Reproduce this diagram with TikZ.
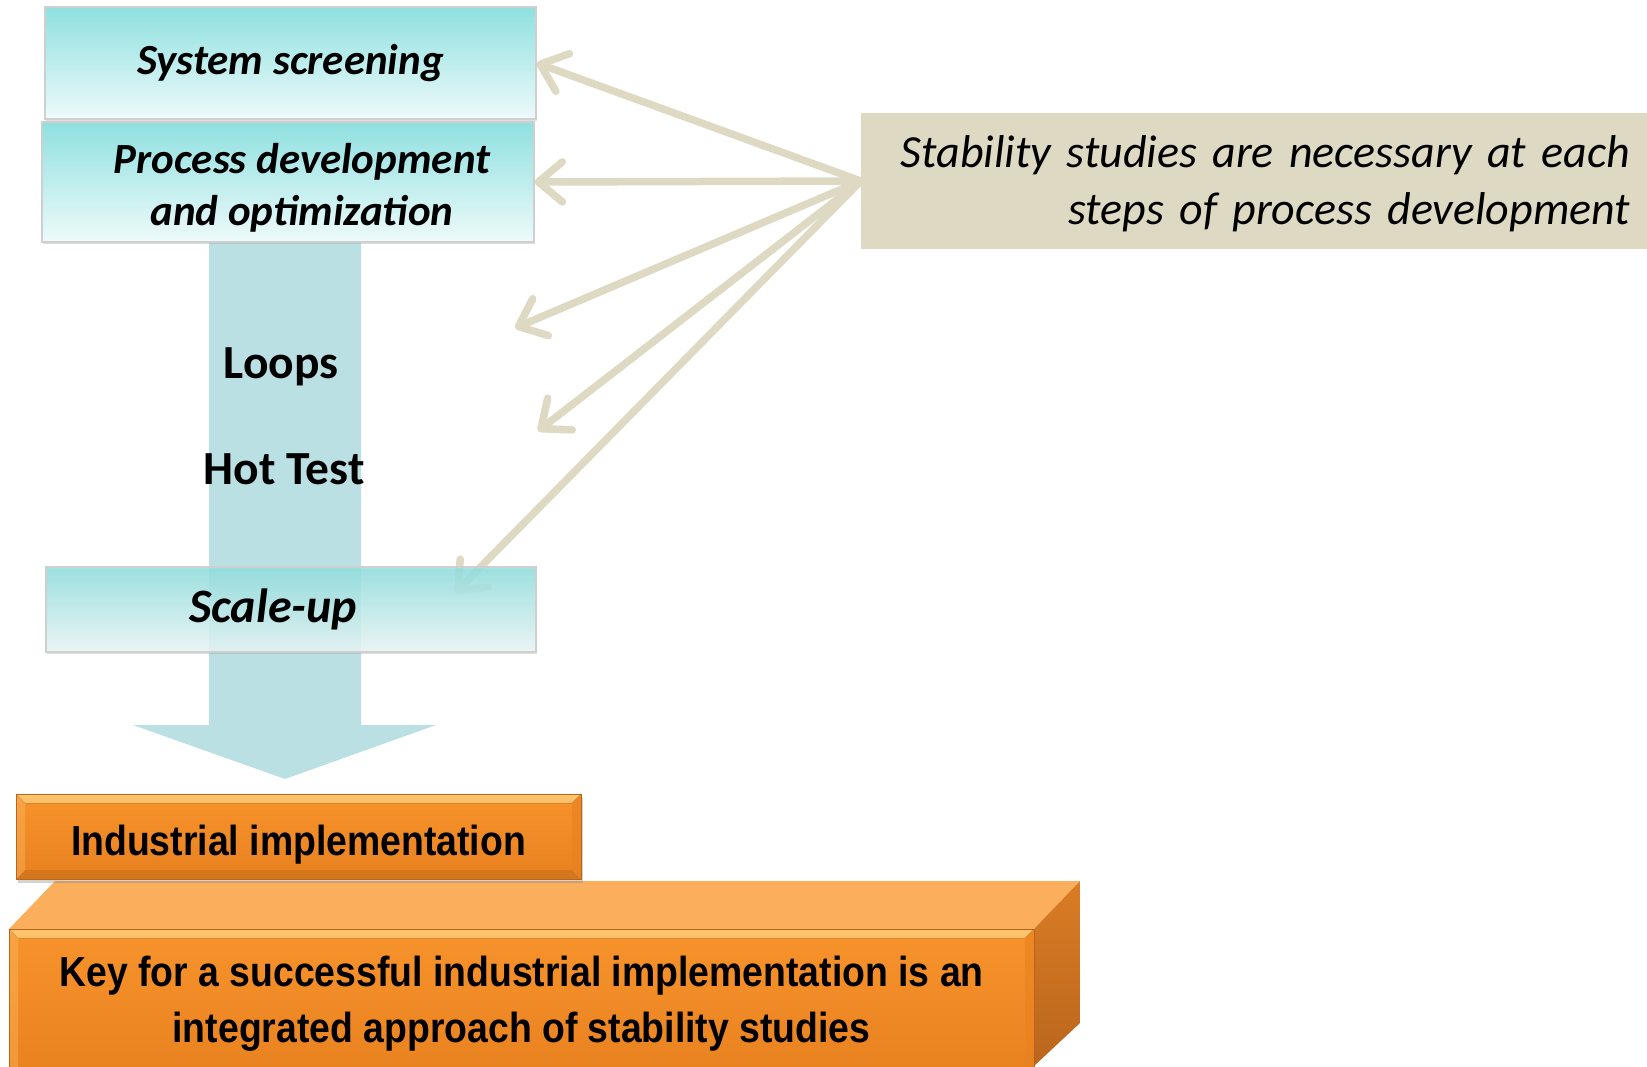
\documentclass[tikz,border=0pt]{standalone}
\usepackage{fontspec}
\setmainfont{Carlito}
\newfontfamily\narrowfont[FakeStretch=0.89]{Liberation Sans}
\usetikzlibrary{arrows.meta,calc,shadows}

\definecolor{aquatop}{HTML}{8FE0E0}
\definecolor{aquabot}{HTML}{EEFAFA}
\definecolor{aquaedge}{HTML}{CFCFCF}
\definecolor{shaftcol}{HTML}{BBE0E4}
\definecolor{tan}{HTML}{DDD9C3}
\definecolor{orangemain}{HTML}{F7932C}
\definecolor{orangelow}{HTML}{E8811F}
\definecolor{orangehi}{HTML}{FDC46E}
\definecolor{orangetop}{HTML}{FBAE5C}
\definecolor{orangeside}{HTML}{DA7C24}
\definecolor{orangesidelow}{HTML}{B9661D}
\definecolor{orangeedge}{HTML}{B8661E}

\pgfdeclarelayer{background}
\pgfsetlayers{background,main}

\tikzset{
  stagebox/.style={rectangle, draw=aquaedge, line width=1.2pt,
    top color=aquatop, bottom color=aquabot, inner sep=0pt,
    font=\fontsize{43}{51.5}\selectfont\bfseries\itshape, align=center,
    drop shadow={opacity=0.25, shadow xshift=1pt, shadow yshift=-2pt}},
  bevel/.style={path picture={
    \fill[top color=orangehi, bottom color=orangemain]
      (path picture bounding box.north west) -- (path picture bounding box.north east)
      -- ([xshift=-9pt,yshift=-9pt]path picture bounding box.north east)
      -- ([xshift=9pt,yshift=-9pt]path picture bounding box.north west) -- cycle;
    \fill[orangelow!85!black, opacity=0.55]
      (path picture bounding box.south west) -- (path picture bounding box.south east)
      -- ([xshift=-9pt,yshift=9pt]path picture bounding box.south east)
      -- ([xshift=9pt,yshift=9pt]path picture bounding box.south west) -- cycle;
    \fill[orangelow, opacity=0.6]
      (path picture bounding box.north east) -- (path picture bounding box.south east)
      -- ([xshift=-9pt,yshift=9pt]path picture bounding box.south east)
      -- ([xshift=-9pt,yshift=-9pt]path picture bounding box.north east) -- cycle;
    \fill[orangehi, opacity=0.35]
      (path picture bounding box.north west) -- (path picture bounding box.south west)
      -- ([xshift=9pt,yshift=9pt]path picture bounding box.south west)
      -- ([xshift=9pt,yshift=-9pt]path picture bounding box.north west) -- cycle;
  }},
  orangebox/.style={rectangle, draw=orangeedge, line width=1pt,
    top color=orangemain, bottom color=orangelow, bevel, inner sep=0pt,
    align=center, font=\narrowfont\bfseries\fontsize{42}{56}\selectfont},
  linkarrow/.style={draw=tan, line width=7.5pt, line cap=round,
    -{Straight Barb[length=24pt, width=40pt, line cap=round, line join=round]}},
  labeltext/.style={font=\fontsize{47.5}{52}\selectfont\bfseries, inner sep=0pt}
}

\begin{document}
\begin{tikzpicture}[x=1pt, y=-1pt]
\useasboundingbox (0,0) rectangle (1647,1066);

% process stages
\node[stagebox, minimum width=491pt, minimum height=112pt] (screen) at (290.5,63) {System screening};
\node[stagebox, minimum width=492pt, minimum height=120pt] (devel) at (288,182)
  {\raisebox{-7pt}[\height][\depth]{\hspace*{28pt}\begin{tabular}{@{}c@{}}Process development\\and optimization\end{tabular}}};
\node[stagebox, minimum width=490pt, minimum height=85pt, fill opacity=0.82, text opacity=1,
  font=\fontsize{48}{52}\selectfont\bfseries\itshape] (scale) at (291,609.5) {\hspace*{-36pt}Scale-up};

% side remark
\node[rectangle, fill=tan, minimum width=786pt, minimum height=136pt, text width=752pt,
  inner xsep=17pt, inner ysep=0pt, align=right,
  font=\fontsize{46}{57}\selectfont\itshape] (remark) at (1254,181)
  {\raisebox{-3pt}[\height][\depth]{Stability studies are necessary at each}\\
   \raisebox{-3pt}[\height][\depth]{steps of process development}};

% free ends of the pointers
\coordinate (ptA) at (515,328);
\coordinate (ptB) at (538,431);
\coordinate (ptC) at (455,593);

% wide downward arrow through the stages
\coordinate (shaftTL) at (209,241);
\coordinate (shaftTR) at (361,241);
\coordinate (tip) at (285,779);
\begin{pgfonlayer}{background}
  \fill[shaftcol] (shaftTL) -- (shaftTR) -- (361,725) -- (436,725) -- (tip)
    -- (133,725) -- (209,725) -- cycle;
  \draw[linkarrow] (remark.west) -- (screen.east);
  \draw[linkarrow] (remark.west) -- (devel.east);
  \draw[linkarrow] (remark.west) -- (ptA);
  \draw[linkarrow] (remark.west) -- (ptB);
  \draw[linkarrow] (remark.west) -- (ptC);
\end{pgfonlayer}

\node[labeltext] (loops) at (281,367) {Loops};
\node[labeltext] (hot) at (284,469) {Hot Test};

% base block drawn in perspective
\fill[orangetop] (9,929) -- (55,881) -- (1080,881) -- (1034,929) -- cycle;
\shade[top color=orangeside, bottom color=orangesidelow]
  (1034,929) -- (1080,881) -- (1080,1023) -- (1034,1066) -- cycle;
\node[orangebox, minimum width=1025pt, minimum height=150pt] (key) at (521.5,1004)
  {Key for a successful industrial implementation is an\\integrated approach of stability studies};

\node[orangebox, minimum width=565pt, minimum height=85pt,
  drop shadow={opacity=0.35, shadow xshift=2pt, shadow yshift=-4pt}] (industry) at (298.5,836.5)
  {\raisebox{-8pt}[\height][\depth]{Industrial implementation}};
\end{tikzpicture}
\end{document}
